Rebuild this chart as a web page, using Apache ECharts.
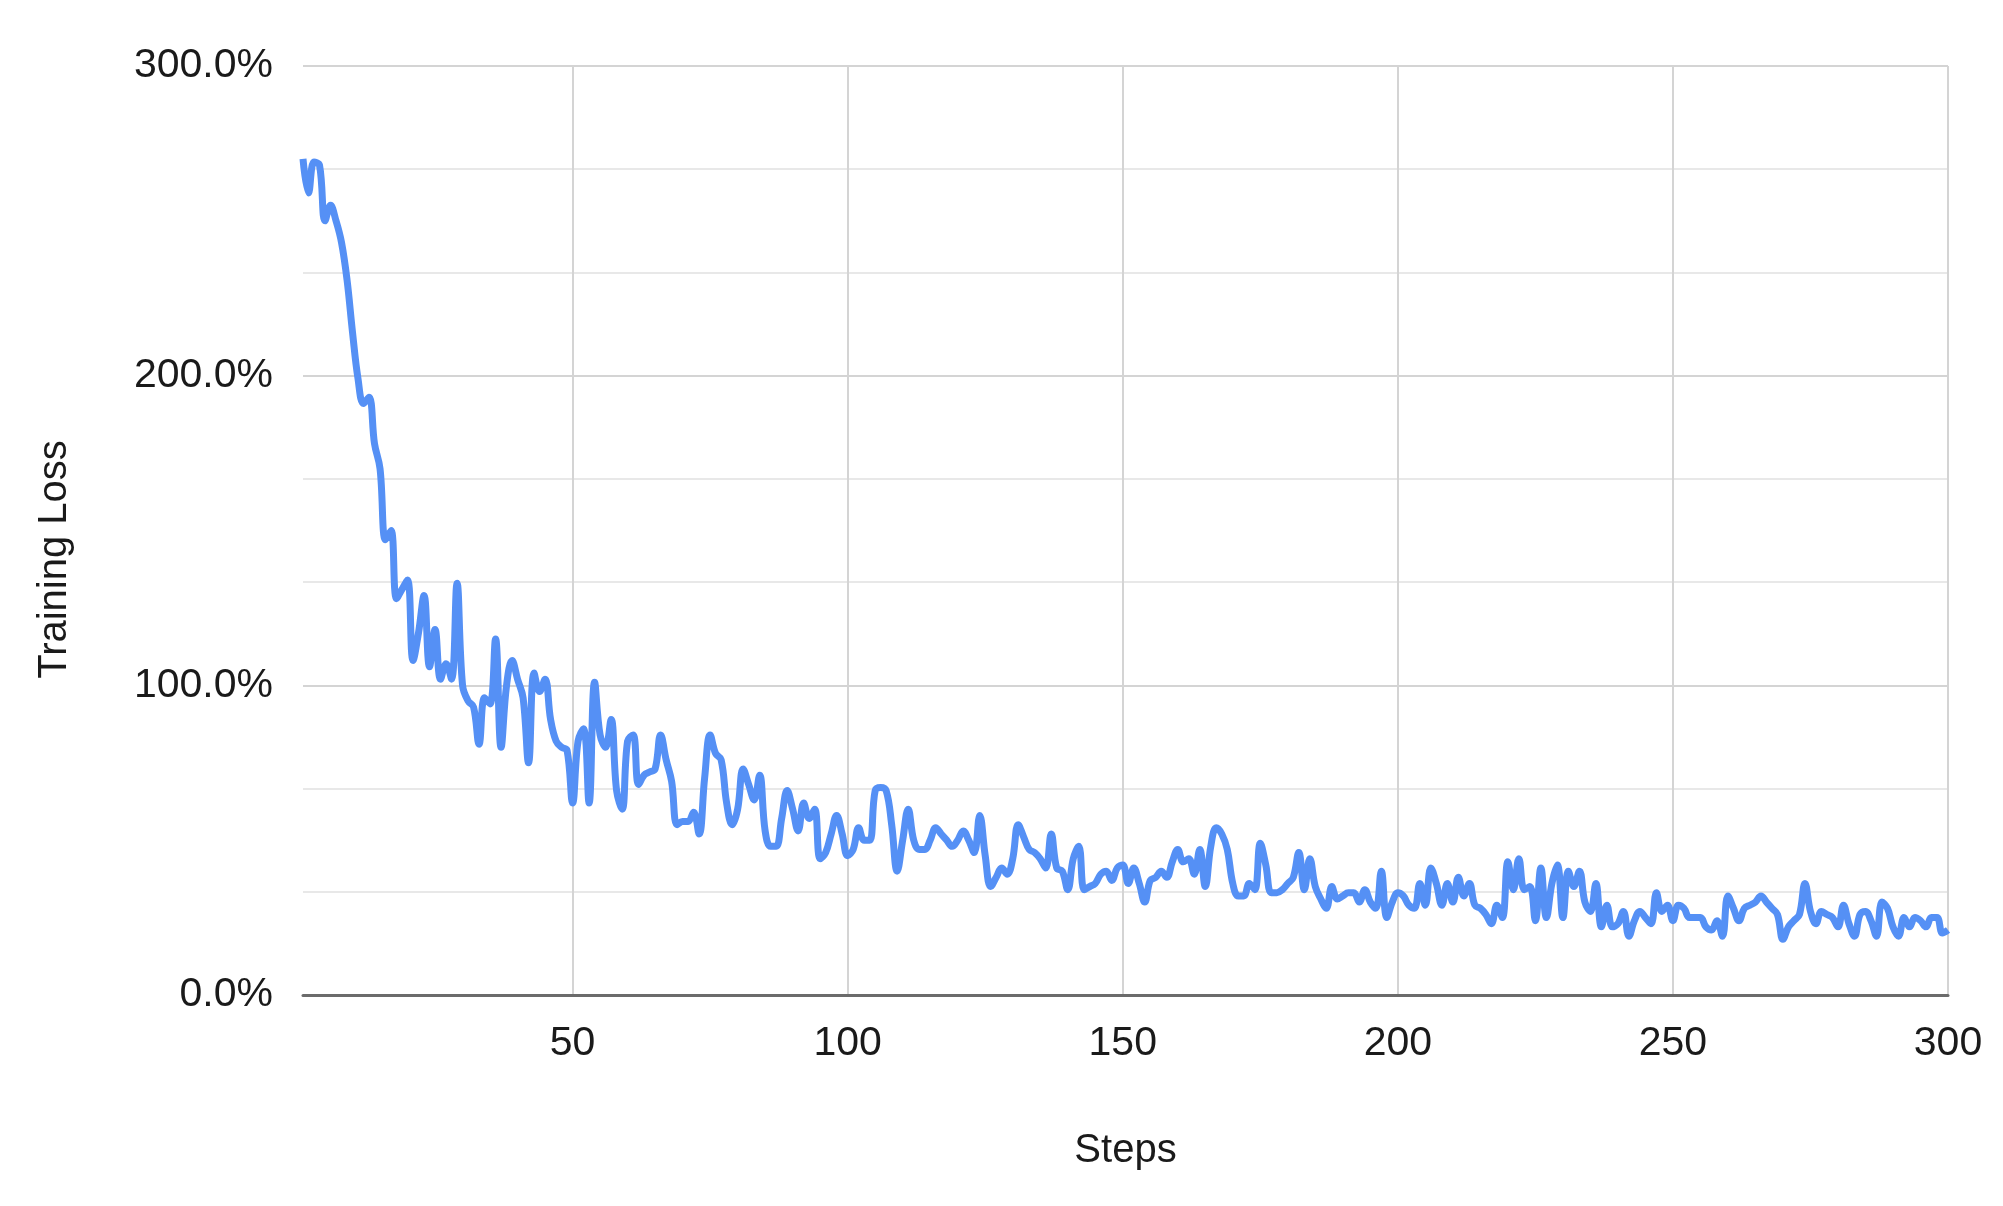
<!DOCTYPE html>
<html>
<head>
<meta charset="utf-8">
<script src="https://cdn.jsdelivr.net/npm/echarts@6/dist/echarts.min.js"></script>
<style>
  html, body { margin: 0; padding: 0; background: #ffffff; }
  #chart { width: 2003px; height: 1206px; }
</style>
</head>
<body>
<div id="chart"></div>
<script>
// Steps 1..300
const steps = Array.from({ length: 300 }, (_, i) => i + 1);

// Training loss (%), one value per step
const loss1 = [270, 259, 269, 268, 250, 255, 250, 243, 231, 214,
               199, 191, 193, 178, 170, 147, 150, 128, 131, 134,
               108, 117, 129, 106, 118, 102, 107, 102, 133, 100,
               95, 93, 81, 96, 94, 115, 80, 100, 108, 102,
               96, 75, 104, 98, 102, 89, 82, 80, 79, 62];
const loss2 = [82, 86, 62, 101, 84, 80, 89, 66, 60, 82,
               84, 68, 71, 72, 73, 84, 76, 69, 55, 56,
               56, 59, 52, 70, 84, 78, 76, 62, 55, 60,
               73, 68, 63, 71, 53, 48, 48, 57, 66, 60,
               53, 62, 57, 60, 44, 46, 52, 58, 52, 45];
const loss3 = [47, 54, 50, 50, 66, 67, 66, 55, 40, 50,
               60, 50, 47, 47, 50, 54, 52, 50, 48, 50,
               53, 50, 46, 58, 45, 35, 38, 41, 39, 44,
               55, 51, 47, 46, 44, 41, 52, 41, 40, 34,
               44, 48, 34, 35, 36, 39, 40, 37, 41, 42];
const loss4 = [36, 41, 36, 30, 37, 38, 40, 38, 43, 47,
               43, 44, 39, 47, 35, 48, 54, 52, 47, 36,
               32, 32, 36, 34, 49, 42, 33, 33, 34, 36,
               38, 46, 34, 44, 35, 31, 28, 35, 31, 32,
               33, 33, 30, 34, 30, 28, 40, 25, 30, 33];
const loss5 = [32, 29, 28, 36, 29, 41, 36, 29, 36, 30,
               38, 32, 36, 29, 28, 26, 23, 29, 25, 43,
               34, 44, 34, 35, 24, 41, 25, 36, 42, 25,
               40, 35, 40, 30, 27, 36, 22, 29, 22, 23,
               27, 19, 24, 27, 25, 23, 33, 27, 29, 24];
const loss6 = [29, 28, 25, 25, 25, 22, 21, 24, 19, 32,
               28, 24, 28, 29, 30, 32, 30, 28, 26, 18,
               22, 24, 26, 36, 27, 23, 27, 26, 25, 22,
               29, 23, 19, 26, 27, 24, 19, 30, 28, 22,
               19, 25, 22, 25, 24, 22, 25, 25, 20, 21];
const loss = [].concat(loss1, loss2, loss3, loss4, loss5, loss6);

// Axis labels
const xTitle = 'Steps';
const yTitle = 'Training Loss';
const xTickEvery = 50;
const yTickLabels = [0, 100, 200, 300];

const chart = echarts.init(document.getElementById('chart'), null, { renderer: 'canvas' });

const FONT = '"Liberation Sans", Arial, Helvetica, sans-serif';
const TEXT = '#1a1a1a';

chart.setOption({
  backgroundColor: '#ffffff',
  animation: false,
  grid: { left: 303, right: 55, top: 66, bottom: 211, containLabel: false },
  xAxis: {
    type: 'category',
    data: steps,
    boundaryGap: false,
    name: xTitle,
    nameLocation: 'middle',
    nameGap: 136,
    nameTextStyle: { fontFamily: FONT, fontSize: 40, color: TEXT },
    axisLine: { show: true, lineStyle: { color: '#6b6b6b', width: 3 } },
    axisTick: { show: false },
    axisLabel: {
      interval: (idx, val) => Number(val) % xTickEvery === 0,
      fontFamily: FONT, fontSize: 41, color: TEXT, margin: 28
    },
    splitLine: {
      show: true,
      interval: (idx, val) => Number(val) % xTickEvery === 0,
      lineStyle: { color: '#d4d4d4', width: 2 }
    }
  },
  yAxis: {
    type: 'value',
    min: yTickLabels[0],
    max: yTickLabels[yTickLabels.length - 1],
    interval: 100,
    name: yTitle,
    nameLocation: 'middle',
    nameGap: 228,
    nameTextStyle: { fontFamily: FONT, fontSize: 40, color: TEXT, padding: [0, 58, 0, 0] },
    axisLine: { show: false },
    axisTick: { show: false },
    axisLabel: {
      formatter: v => v.toFixed(1) + '%',
      fontFamily: FONT, fontSize: 41, color: TEXT, margin: 30
    },
    splitLine: { show: true, lineStyle: { color: '#d4d4d4', width: 2 } },
    minorTick: { show: false, splitNumber: 3 },
    minorSplitLine: { show: true, lineStyle: { color: '#e8e8e8', width: 2 } }
  },
  series: [{
    type: 'line',
    data: loss,
    smooth: 0.4,
    showSymbol: false,
    symbol: 'none',
    lineStyle: { color: '#5590f5', width: 7 },
    z: 5
  }]
});
</script>
</body>
</html>
